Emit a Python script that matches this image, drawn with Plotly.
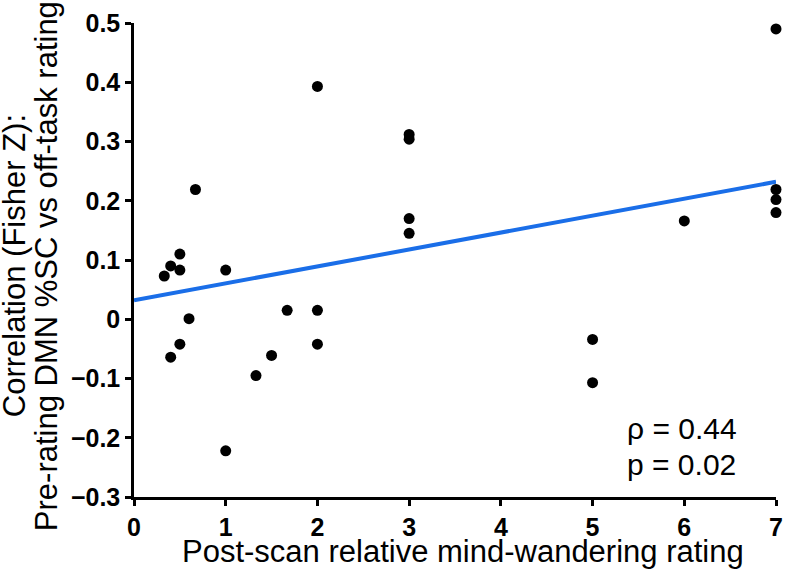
import plotly.graph_objects as go

# Data
mw_rating = [0.33, 0.4, 0.4, 0.5, 0.5, 0.5, 0.6, 0.67, 1, 1, 1.33, 1.5, 1.67,
             2, 2, 2, 3, 3, 3, 3, 5, 5, 6, 7, 7, 7, 7]
fisher_z = [0.073, 0.09, -0.064, 0.11, 0.083, -0.042, 0.001, 0.219, 0.083, -0.222,
            -0.095, -0.061, 0.015, 0.393, 0.015, -0.042, 0.312, 0.304, 0.170, 0.145,
            -0.034, -0.107, 0.166, 0.490, 0.219, 0.202, 0.180]
fit_x = [0, 7]
fit_y = [0.032, 0.232]
x_ticks = [0, 1, 2, 3, 4, 5, 6, 7]
y_ticks = [-0.3, -0.2, -0.1, 0, 0.1, 0.2, 0.3, 0.4, 0.5]
y_tick_labels = ["−0.3", "−0.2", "−0.1", "0", "0.1", "0.2", "0.3", "0.4", "0.5"]
stats_lines = ["ρ = 0.44", "p = 0.02"]
x_title = "Post-scan relative mind-wandering rating"
y_title_lines = ["Correlation (Fisher Z):", "Pre-rating DMN %SC vs off-task rating"]

FONT = "Liberation Sans, Arial, Helvetica, sans-serif"
TITLE_SIZE = 31
TICK_SIZE = 25

fig = go.Figure()
fig.add_trace(go.Scatter(
    x=fit_x, y=fit_y, mode="lines",
    line=dict(color="#1a6ee8", width=4),
    hoverinfo="skip", showlegend=False, cliponaxis=False,
))
fig.add_trace(go.Scatter(
    x=mw_rating, y=fisher_z, mode="markers",
    marker=dict(color="black", size=11),
    showlegend=False, cliponaxis=False,
))

# stats text (two lines, tighter spacing than default)
for txt, ypos in zip(stats_lines, [0.1435, 0.0696]):
    fig.add_annotation(
        x=0.7645, y=ypos, xref="paper", yref="paper",
        text=txt, showarrow=False, xanchor="left", yanchor="middle",
        font=dict(family=FONT, size=30, color="black"),
    )

# y-axis title lines
for txt, xs in zip(y_title_lines, [-120, -88]):
    fig.add_annotation(
        x=0, y=0.487, xref="paper", yref="paper", xshift=xs,
        text=txt, showarrow=False, textangle=-90,
        xanchor="center", yanchor="middle",
        font=dict(family=FONT, size=TITLE_SIZE, color="black"),
    )

# x-axis title
fig.add_annotation(
    x=0.5, y=0, xref="paper", yref="paper", xshift=8, yshift=-54,
    text=x_title, showarrow=False, xanchor="center", yanchor="middle",
    font=dict(family=FONT, size=TITLE_SIZE, color="black"),
)

fig.update_layout(
    width=796, height=572,
    margin=dict(l=134, r=20, t=23, b=75, autoexpand=False),
    paper_bgcolor="white", plot_bgcolor="white",
    font=dict(family=FONT, color="black"),
    xaxis=dict(
        range=[0, 7], tickvals=x_ticks, ticktext=[str(t) for t in x_ticks],
        automargin=False,
        showgrid=False, zeroline=False, showline=True, linecolor="black", linewidth=2.5,
        ticks="outside", ticklen=6, tickwidth=2.5, tickcolor="black",
        tickfont=dict(family=FONT, size=TICK_SIZE, color="black", weight="bold"),
    ),
    yaxis=dict(
        range=[-0.3, 0.5], tickvals=y_ticks, ticktext=y_tick_labels,
        automargin=False,
        showgrid=False, zeroline=False, showline=True, linecolor="black", linewidth=2.5,
        ticks="outside", ticklen=6, tickwidth=2.5, tickcolor="black",
        tickfont=dict(family=FONT, size=TICK_SIZE, color="black", weight="bold"),
    ),
)

# remove the default 8px page margin so the figure fills the window exactly
fig.write_html(
    "out.html",
    config={"displayModeBar": False},
    post_script="document.body.style.margin='0';document.body.style.overflow='hidden';",
)
